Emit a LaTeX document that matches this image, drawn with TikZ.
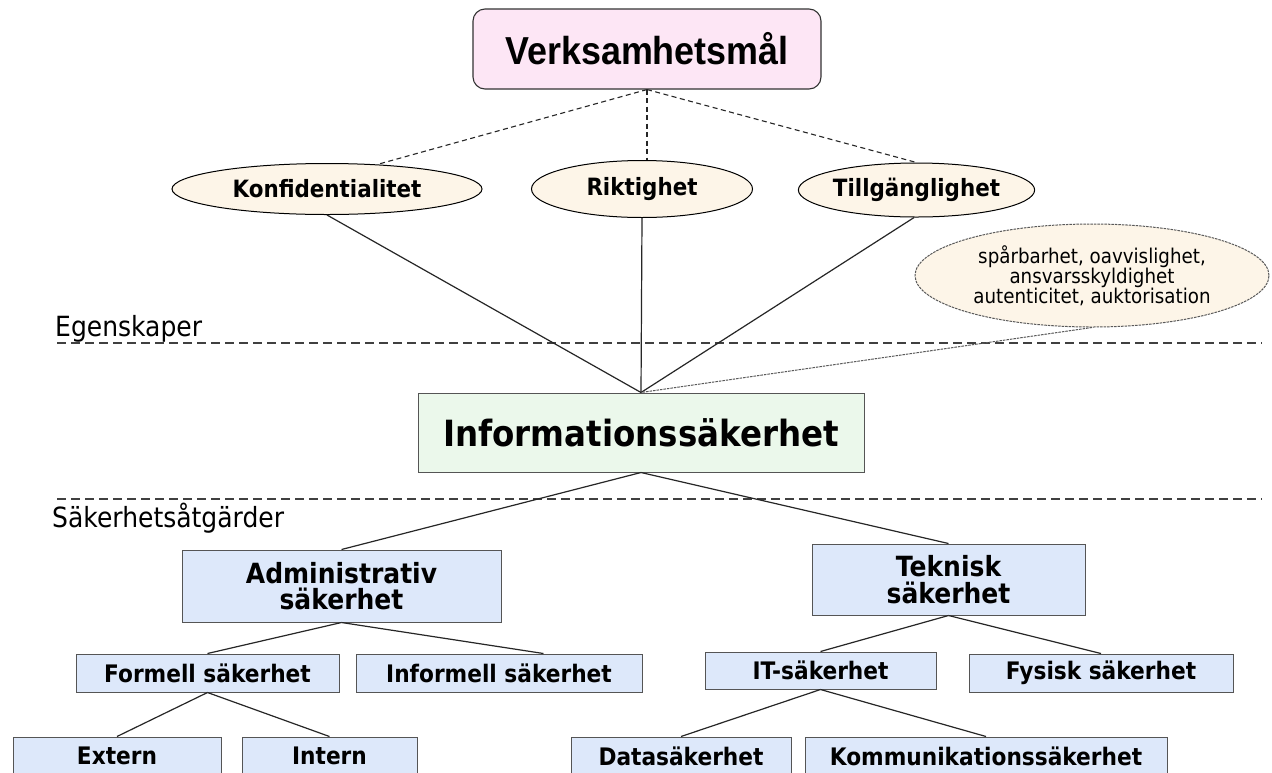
\documentclass[tikz,border=0pt]{standalone}
\usepackage{fontspec}
\setmainfont{DejaVu Sans}[FakeStretch=0.9]
\newfontfamily\titlefont{Liberation Sans}[FakeStretch=0.92]
\usetikzlibrary{shapes.geometric,calc}
\definecolor{titlefill}{HTML}{FDE6F5}
\definecolor{ellfill}{HTML}{FDF5E8}
\definecolor{infofill}{HTML}{EBF8EB}
\definecolor{boxfill}{HTML}{DDE8FA}
\definecolor{boxline}{HTML}{555555}
\tikzset{
  box/.style={rectangle, draw=boxline, fill=boxfill, line width=1pt, inner sep=0pt, align=center, font=\bfseries\fontsize{24.1}{27}\selectfont},
  bigbox/.style={box, font=\bfseries\fontsize{27.8}{26.5}\selectfont},
  ell/.style={ellipse, draw=black, fill=ellfill, line width=1pt, inner sep=0pt, font=\bfseries\fontsize{23.8}{27}\selectfont},
  conn/.style={line width=1.2pt, draw=black!85},
  tdash/.style={line width=1.1pt, draw=black!85, dash pattern=on 5pt off 3.5pt},
  sepline/.style={line width=1.3pt, draw=black!75, dash pattern=on 9pt off 5pt},
  notedash/.style={line width=1pt, draw=black!65, dash pattern=on 2.5pt off 1pt},
  lbl/.style={anchor=base west, inner sep=0pt, font=\fontsize{27.8}{32}\selectfont}
}
\begin{document}
\begin{tikzpicture}[x=1pt,y=-1pt]
\clip (0,0) rectangle (1272,772);
\fill[white] (0,0) rectangle (1272,772);

% separators and labels
\coordinate (s1a) at (57,343);
\coordinate (s1b) at (1262,343);
\coordinate (s2a) at (57,499);
\coordinate (s2b) at (1262,499);
\draw[sepline] (s1a) -- (s1b);
\draw[sepline] (s2a) -- (s2b);
\node[lbl] (egen) at (55,336) {Egenskaper};
\node[lbl] (atg) at (52,527) {Säkerhetsåtgärder};

% title
\node[rectangle, rounded corners=12pt, draw=black!80, fill=titlefill, line width=1.1pt,
      minimum width=348pt, minimum height=80pt, inner sep=0pt,
      font=\titlefont\bfseries\fontsize{39}{42}\selectfont] (title) at (647,49) {Verksamhetsmål};

% ellipses
\node[ell, minimum width=310pt, minimum height=51pt] (konf) at (327,189) {Konfidentialitet};
\node[ell, minimum width=221pt, minimum height=57pt] (rikt) at (642,189) {Riktighet};
\node[ell, minimum width=227pt, minimum height=54pt] (tillg) at (916.5,190) {Tillgänglighet};
\node[ellipse, notedash, fill=ellfill, inner sep=0pt, minimum width=354pt, minimum height=103pt,
      align=center, font=\fontsize{20.3}{20}\selectfont] (note) at (1092,275.5)
      {spårbarhet, oavvislighet,\\ansvarsskyldighet\\autenticitet, auktorisation};

% info
\node[rectangle, draw=boxline, fill=infofill, line width=1pt, inner sep=0pt,
      minimum width=446pt, minimum height=79pt,
      font=\bfseries\fontsize{36.1}{40}\selectfont] (info) at (641,432.5) {Informationssäkerhet};

% boxes
\node[bigbox, minimum width=319pt, minimum height=72pt] (adm) at (341.5,586) {Administrativ\\säkerhet};
\node[bigbox, minimum width=273pt, minimum height=71pt] (tek) at (948.5,579.5) {Teknisk\\säkerhet};
\node[box, minimum width=263pt, minimum height=38pt] (formell) at (207.5,673) {Formell säkerhet};
\node[box, minimum width=286pt, minimum height=38pt] (informell) at (499,673) {Informell säkerhet};
\node[box, minimum width=231pt, minimum height=37pt] (it) at (820.5,670.5) {IT-säkerhet};
\node[box, minimum width=264pt, minimum height=38pt] (fysisk) at (1101,673) {Fysisk säkerhet};
\node[box, minimum width=208pt, minimum height=38pt] (extern) at (117,756) {Extern};
\node[box, minimum width=175pt, minimum height=38pt] (intern) at (329.5,756) {Intern};
\node[box, minimum width=220pt, minimum height=38pt] (data) at (681,756) {Datasäkerhet};
\node[box, minimum width=362pt, minimum height=38pt] (komm) at (986,756) {Kommunikationssäkerhet};

% dashed connectors from title
\draw[tdash] (title.south) -- (konf.26);
\draw[tdash] (title.south) -- (title.south |- rikt.north);
\draw[tdash] (title.south) -- (tillg.north);

% solid connectors to info
\draw[conn] (konf.south) -- (info.north);
\draw[conn] (rikt.south) -- (info.north);
\draw[conn] (tillg.-95) -- (info.north);
\draw[notedash] (note.south) -- (info.north);

% tree
\draw[conn] (info.south) -- (adm.north);
\draw[conn] (info.south) -- (tek.north);
\coordinate (infT) at ($(informell.north west)!0.655!(informell.north east)$);
\draw[conn] (adm.south) -- (formell.north);
\draw[conn] (adm.south) -- (infT);
\draw[conn] (formell.south) -- (extern.north);
\draw[conn] (formell.south) -- (intern.north);
\draw[conn] (tek.south) -- (it.north);
\draw[conn] (tek.south) -- (fysisk.north);
\draw[conn] (it.south) -- (data.north);
\draw[conn] (it.south) -- (komm.north);
\end{tikzpicture}
\end{document}
